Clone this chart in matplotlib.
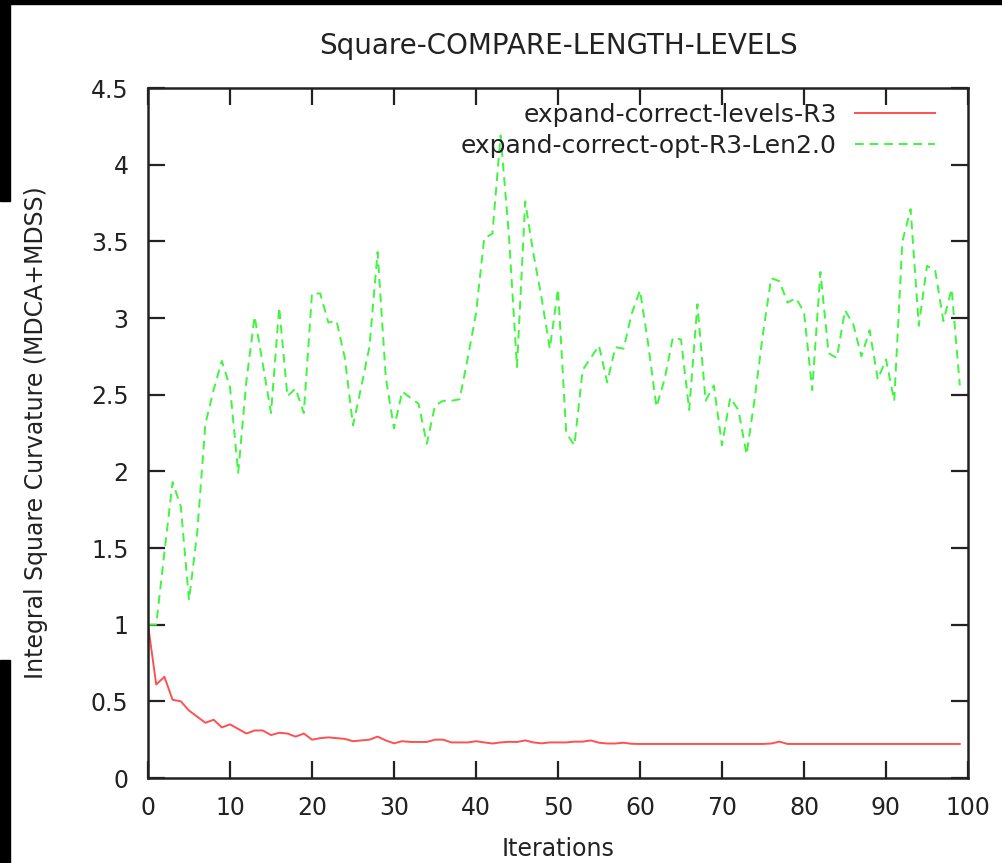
import matplotlib
matplotlib.use("Agg")
import matplotlib.pyplot as plt
from matplotlib.patches import Rectangle

plt.rcParams['font.family'] = ['DejaVu Sans']

iterations = list(range(100))

levels_r3 = [
    1.00, 0.61, 0.66, 0.51, 0.50, 0.44, 0.40, 0.36, 0.38, 0.33,
    0.35, 0.32, 0.29, 0.31, 0.31, 0.28, 0.295, 0.29, 0.27, 0.29,
    0.25, 0.26, 0.265, 0.26, 0.255, 0.24, 0.245, 0.25, 0.27, 0.245,
    0.226, 0.24, 0.235, 0.235, 0.235, 0.25, 0.25, 0.232, 0.232, 0.232,
    0.24, 0.232, 0.225, 0.232, 0.236, 0.235, 0.245, 0.232, 0.226, 0.232,
    0.232, 0.232, 0.237, 0.237, 0.245, 0.23, 0.225, 0.225, 0.23, 0.223,
    0.222, 0.222, 0.222, 0.222, 0.222, 0.222, 0.222, 0.222, 0.222, 0.222,
    0.222, 0.222, 0.222, 0.222, 0.222, 0.222, 0.225, 0.237, 0.222, 0.222,
    0.222, 0.222, 0.222, 0.222, 0.222, 0.222, 0.222, 0.222, 0.222, 0.222,
    0.222, 0.222, 0.222, 0.222, 0.222, 0.222, 0.222, 0.222, 0.222, 0.222,
]

opt_r3_len2 = [
    1.00, 1.00, 1.47, 1.93, 1.77, 1.16, 1.60, 2.31, 2.53, 2.72,
    2.55, 1.99, 2.59, 3.01, 2.70, 2.38, 3.07, 2.49, 2.54, 2.38,
    3.16, 3.16, 2.97, 2.98, 2.74, 2.30, 2.55, 2.81, 3.43, 2.61,
    2.28, 2.52, 2.48, 2.44, 2.18, 2.43, 2.46, 2.46, 2.47, 2.74,
    3.03, 3.52, 3.55, 4.19, 3.55, 2.68, 3.76, 3.42, 3.13, 2.80,
    3.19, 2.25, 2.17, 2.66, 2.74, 2.82, 2.58, 2.81, 2.80, 3.03,
    3.18, 2.83, 2.42, 2.60, 2.87, 2.86, 2.40, 3.09, 2.46, 2.56,
    2.17, 2.48, 2.40, 2.11, 2.48, 2.90, 3.26, 3.24, 3.10, 3.13,
    3.04, 2.53, 3.30, 2.77, 2.74, 3.05, 2.96, 2.75, 2.92, 2.60,
    2.73, 2.46, 3.50, 3.71, 2.95, 3.34, 3.31, 2.98, 3.19, 2.56,
]

x_ticks = list(range(0, 101, 10))
y_ticks = [0, 0.5, 1, 1.5, 2, 2.5, 3, 3.5, 4, 4.5]
y_tick_labels = ['0', '0.5', '1', '1.5', '2', '2.5', '3', '3.5', '4', '4.5']

FS = 17
INK = '#222222'
W, H = 1002, 863
fig = plt.figure(figsize=(W / 100, H / 100), dpi=100)
ax = fig.add_axes([148 / W, 85 / H, 820 / W, 690 / H])

ax.plot(iterations, levels_r3, color='#ff5050', lw=1.4,
        label='expand-correct-levels-R3')
ax.plot(iterations, opt_r3_len2, color='#40f540', lw=1.4,
        dashes=(4.5, 3), label='expand-correct-opt-R3-Len2.0')

ax.set_xlim(0, 100)
ax.set_ylim(0, 4.5)
ax.set_xticks(x_ticks)
ax.set_yticks(y_ticks)
ax.set_yticklabels(y_tick_labels)
ax.tick_params(direction='in', length=12, width=1.6, top=True, right=True,
               labelsize=FS, colors=INK)
ax.tick_params(axis='y', pad=14)
ax.tick_params(axis='x', pad=13)
for s in ax.spines.values():
    s.set_linewidth(1.8)
    s.set_color(INK)

ax.text(0.5, (778 - 46) / 690, 'Square-COMPARE-LENGTH-LEVELS', transform=ax.transAxes,
        ha='center', va='center', fontsize=20, color=INK)
ax.set_xlabel('Iterations', fontsize=FS, color=INK)
ax.xaxis.set_label_coords(0.5, (778 - 837) / 690)
ax.set_ylabel('Integral Square Curvature (MDCA+MDSS)', fontsize=FS, color=INK)
ax.yaxis.set_label_coords((48 - 148) / 820, 0.5)

leg = ax.legend(loc='upper right', frameon=False, fontsize=18,
                markerfirst=False, handlelength=3.2, handletextpad=0.72,
                labelspacing=0.26, borderpad=0.0, borderaxespad=0.0,
                bbox_to_anchor=((935 - 148) / 820, (778 - 103) / 690))
for t in leg.get_texts():
    t.set_color(INK)

# black frame strips along the top and left edges
fig.patches.append(Rectangle((0, 1 - 4 / H), 1, 4 / H, transform=fig.transFigure,
                             color='black', zorder=10))
fig.patches.append(Rectangle((0, 1 - 201 / H), 10 / W, 201 / H,
                             transform=fig.transFigure, color='black', zorder=10))
fig.patches.append(Rectangle((0, 0), 10 / W, (H - 660) / H,
                             transform=fig.transFigure, color='black', zorder=10))

fig.savefig('out.png', dpi=100)
